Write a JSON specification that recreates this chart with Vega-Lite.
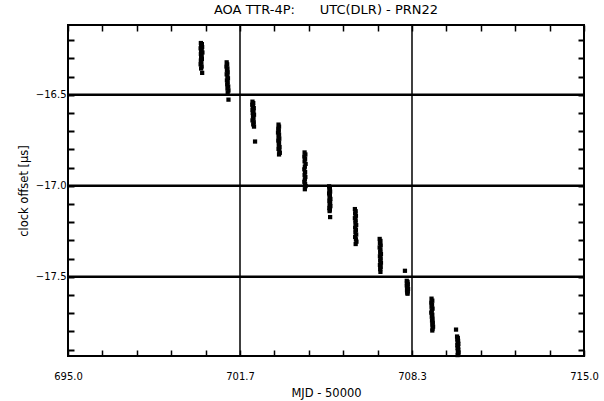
{
  "$schema": "https://vega.github.io/schema/vega-lite/v6.json",
  "width": 516,
  "height": 331,
  "autosize": {"type": "none"},
  "padding": {"left": 68, "top": 25, "right": 20, "bottom": 45},
  "background": "white",
  "title": {
    "text": "AOA TTR-4P:\u00a0\u00a0\u00a0\u00a0\u00a0 UTC(DLR) - PRN22",
    "font": "DejaVu Sans",
    "fontSize": 13,
    "fontWeight": "normal",
    "color": "black",
    "anchor": "middle",
    "offset": 7
  },
  "config": {
    "view": {"stroke": "black", "strokeWidth": 2},
    "axis": {
      "labelFont": "DejaVu Sans",
      "titleFont": "DejaVu Sans",
      "labelColor": "black",
      "titleColor": "black",
      "titleFontWeight": "normal"
    }
  },
  "data": {
    "values": [
      {"mjd": 700.15, "off": -16.216}, {"mjd": 700.19, "off": -16.222}, {"mjd": 700.16, "off": -16.230}, {"mjd": 700.20, "off": -16.238},
      {"mjd": 700.14, "off": -16.245}, {"mjd": 700.18, "off": -16.252}, {"mjd": 700.16, "off": -16.260}, {"mjd": 700.21, "off": -16.268},
      {"mjd": 700.15, "off": -16.276}, {"mjd": 700.18, "off": -16.285}, {"mjd": 700.16, "off": -16.294}, {"mjd": 700.19, "off": -16.303},
      {"mjd": 700.15, "off": -16.312}, {"mjd": 700.17, "off": -16.322}, {"mjd": 700.14, "off": -16.333}, {"mjd": 700.18, "off": -16.345},
      {"mjd": 700.16, "off": -16.356}, {"mjd": 700.20, "off": -16.380},
      {"mjd": 701.15, "off": -16.322}, {"mjd": 701.17, "off": -16.333}, {"mjd": 701.14, "off": -16.345}, {"mjd": 701.18, "off": -16.356},
      {"mjd": 701.16, "off": -16.366}, {"mjd": 701.19, "off": -16.377}, {"mjd": 701.15, "off": -16.388}, {"mjd": 701.18, "off": -16.399},
      {"mjd": 701.20, "off": -16.410}, {"mjd": 701.16, "off": -16.421}, {"mjd": 701.19, "off": -16.432}, {"mjd": 701.17, "off": -16.444},
      {"mjd": 701.21, "off": -16.455}, {"mjd": 701.18, "off": -16.466}, {"mjd": 701.22, "off": -16.477}, {"mjd": 701.19, "off": -16.489},
      {"mjd": 701.22, "off": -16.527},
      {"mjd": 702.15, "off": -16.538}, {"mjd": 702.18, "off": -16.546}, {"mjd": 702.14, "off": -16.555}, {"mjd": 702.17, "off": -16.564},
      {"mjd": 702.20, "off": -16.573}, {"mjd": 702.15, "off": -16.582}, {"mjd": 702.19, "off": -16.591}, {"mjd": 702.16, "off": -16.600},
      {"mjd": 702.21, "off": -16.610}, {"mjd": 702.17, "off": -16.620}, {"mjd": 702.19, "off": -16.631}, {"mjd": 702.15, "off": -16.641},
      {"mjd": 702.20, "off": -16.652}, {"mjd": 702.18, "off": -16.663}, {"mjd": 702.21, "off": -16.675}, {"mjd": 702.25, "off": -16.757},
      {"mjd": 703.16, "off": -16.664}, {"mjd": 703.18, "off": -16.675}, {"mjd": 703.15, "off": -16.686}, {"mjd": 703.17, "off": -16.697},
      {"mjd": 703.14, "off": -16.708}, {"mjd": 703.18, "off": -16.719}, {"mjd": 703.16, "off": -16.730}, {"mjd": 703.19, "off": -16.741},
      {"mjd": 703.15, "off": -16.752}, {"mjd": 703.18, "off": -16.763}, {"mjd": 703.17, "off": -16.775}, {"mjd": 703.20, "off": -16.787},
      {"mjd": 703.16, "off": -16.798}, {"mjd": 703.19, "off": -16.809}, {"mjd": 703.21, "off": -16.819}, {"mjd": 703.18, "off": -16.828},
      {"mjd": 704.17, "off": -16.817}, {"mjd": 704.20, "off": -16.828}, {"mjd": 704.16, "off": -16.840}, {"mjd": 704.19, "off": -16.852},
      {"mjd": 704.17, "off": -16.866}, {"mjd": 704.21, "off": -16.880}, {"mjd": 704.18, "off": -16.895}, {"mjd": 704.16, "off": -16.910},
      {"mjd": 704.19, "off": -16.925}, {"mjd": 704.17, "off": -16.940}, {"mjd": 704.20, "off": -16.952}, {"mjd": 704.18, "off": -16.965},
      {"mjd": 704.16, "off": -16.978}, {"mjd": 704.19, "off": -16.990}, {"mjd": 704.21, "off": -17.002}, {"mjd": 704.18, "off": -17.019},
      {"mjd": 705.12, "off": -17.003}, {"mjd": 705.15, "off": -17.012}, {"mjd": 705.13, "off": -17.022}, {"mjd": 705.16, "off": -17.032},
      {"mjd": 705.12, "off": -17.042}, {"mjd": 705.15, "off": -17.052}, {"mjd": 705.14, "off": -17.062}, {"mjd": 705.17, "off": -17.072},
      {"mjd": 705.13, "off": -17.082}, {"mjd": 705.16, "off": -17.092}, {"mjd": 705.14, "off": -17.102}, {"mjd": 705.17, "off": -17.112},
      {"mjd": 705.13, "off": -17.122}, {"mjd": 705.15, "off": -17.131}, {"mjd": 705.14, "off": -17.139}, {"mjd": 705.16, "off": -17.172},
      {"mjd": 706.12, "off": -17.128}, {"mjd": 706.15, "off": -17.140}, {"mjd": 706.13, "off": -17.152}, {"mjd": 706.16, "off": -17.165},
      {"mjd": 706.12, "off": -17.178}, {"mjd": 706.15, "off": -17.190}, {"mjd": 706.14, "off": -17.203}, {"mjd": 706.17, "off": -17.216},
      {"mjd": 706.13, "off": -17.229}, {"mjd": 706.16, "off": -17.242}, {"mjd": 706.14, "off": -17.255}, {"mjd": 706.17, "off": -17.268},
      {"mjd": 706.13, "off": -17.281}, {"mjd": 706.16, "off": -17.294}, {"mjd": 706.18, "off": -17.307}, {"mjd": 706.15, "off": -17.320},
      {"mjd": 707.08, "off": -17.292}, {"mjd": 707.11, "off": -17.303}, {"mjd": 707.09, "off": -17.315}, {"mjd": 707.12, "off": -17.327},
      {"mjd": 707.08, "off": -17.339}, {"mjd": 707.11, "off": -17.351}, {"mjd": 707.10, "off": -17.363}, {"mjd": 707.13, "off": -17.375},
      {"mjd": 707.09, "off": -17.387}, {"mjd": 707.12, "off": -17.399}, {"mjd": 707.10, "off": -17.411}, {"mjd": 707.13, "off": -17.423},
      {"mjd": 707.09, "off": -17.435}, {"mjd": 707.12, "off": -17.447}, {"mjd": 707.10, "off": -17.458}, {"mjd": 707.11, "off": -17.473},
      {"mjd": 708.06, "off": -17.467},
      {"mjd": 708.13, "off": -17.522}, {"mjd": 708.16, "off": -17.528}, {"mjd": 708.14, "off": -17.535}, {"mjd": 708.17, "off": -17.541},
      {"mjd": 708.13, "off": -17.548}, {"mjd": 708.16, "off": -17.554}, {"mjd": 708.15, "off": -17.561}, {"mjd": 708.18, "off": -17.567},
      {"mjd": 708.14, "off": -17.574}, {"mjd": 708.17, "off": -17.580}, {"mjd": 708.15, "off": -17.587}, {"mjd": 708.16, "off": -17.593},
      {"mjd": 709.09, "off": -17.620}, {"mjd": 709.12, "off": -17.631}, {"mjd": 709.08, "off": -17.642}, {"mjd": 709.11, "off": -17.653},
      {"mjd": 709.09, "off": -17.664}, {"mjd": 709.13, "off": -17.675}, {"mjd": 709.10, "off": -17.686}, {"mjd": 709.08, "off": -17.697},
      {"mjd": 709.12, "off": -17.708}, {"mjd": 709.10, "off": -17.719}, {"mjd": 709.13, "off": -17.730}, {"mjd": 709.11, "off": -17.741},
      {"mjd": 709.14, "off": -17.752}, {"mjd": 709.12, "off": -17.763}, {"mjd": 709.15, "off": -17.774}, {"mjd": 709.13, "off": -17.785},
      {"mjd": 709.12, "off": -17.795},
      {"mjd": 710.04, "off": -17.790},
      {"mjd": 710.08, "off": -17.828}, {"mjd": 710.11, "off": -17.836}, {"mjd": 710.09, "off": -17.844}, {"mjd": 710.12, "off": -17.852},
      {"mjd": 710.10, "off": -17.860}, {"mjd": 710.13, "off": -17.868}, {"mjd": 710.09, "off": -17.876}, {"mjd": 710.12, "off": -17.884},
      {"mjd": 710.10, "off": -17.892}, {"mjd": 710.13, "off": -17.900}, {"mjd": 710.11, "off": -17.908}, {"mjd": 710.14, "off": -17.916},
      {"mjd": 710.12, "off": -17.924}, {"mjd": 710.10, "off": -17.930}
    ]
  },
  "layer": [
    {
      "data": {"values": [{}]},
      "mark": {"type": "rule", "color": "black", "strokeWidth": 1.5},
      "encoding": {
        "x": {
          "datum": 701.6667,
          "type": "quantitative",
          "scale": {"domain": [695, 715], "nice": false, "zero": false},
          "axis": {
            "orient": "top",
            "values": [695, 696.3333, 697.6667, 699, 700.3333, 701.6667, 703, 704.3333, 705.6667, 707, 708.3333, 709.6667, 711, 712.3333, 713.6667, 715],
            "ticks": true,
            "tickSize": -6,
            "tickWidth": 1.5,
            "tickColor": "black",
            "labels": false,
            "domain": false,
            "grid": false,
            "title": null
          }
        }
      }
    },
    {
      "data": {"values": [{}]},
      "mark": {"type": "rule", "color": "black", "strokeWidth": 1.5},
      "encoding": {
        "x": {"datum": 708.3333, "type": "quantitative", "scale": {"domain": [695, 715], "nice": false, "zero": false}, "axis": null}
      }
    },
    {
      "data": {"values": [{}]},
      "mark": {"type": "rule", "color": "black", "strokeWidth": 2.5},
      "encoding": {
        "y": {
          "datum": -16.5,
          "type": "quantitative",
          "scale": {"domain": [-17.935, -16.117], "nice": false, "zero": false},
          "axis": {
            "orient": "right",
            "values": [-16.2, -16.3, -16.4, -16.5, -16.6, -16.7, -16.8, -16.9, -17.0, -17.1, -17.2, -17.3, -17.4, -17.5, -17.6, -17.7, -17.8, -17.9],
            "ticks": true,
            "tickSize": -6,
            "tickWidth": 2,
            "tickColor": "black",
            "labels": false,
            "domain": false,
            "grid": false,
            "title": null
          }
        }
      }
    },
    {
      "data": {"values": [{}]},
      "mark": {"type": "rule", "color": "black", "strokeWidth": 2.5},
      "encoding": {
        "y": {"datum": -17.0, "type": "quantitative", "scale": {"domain": [-17.935, -16.117], "nice": false, "zero": false}, "axis": null}
      }
    },
    {
      "data": {"values": [{}]},
      "mark": {"type": "rule", "color": "black", "strokeWidth": 2.5},
      "encoding": {
        "y": {"datum": -17.5, "type": "quantitative", "scale": {"domain": [-17.935, -16.117], "nice": false, "zero": false}, "axis": null}
      }
    },
    {
      "mark": {"type": "point", "shape": "square", "filled": true, "size": 18, "color": "black", "opacity": 1},
      "encoding": {
        "x": {
          "field": "mjd",
          "type": "quantitative",
          "scale": {"domain": [695, 715], "nice": false, "zero": false},
          "axis": {
            "orient": "bottom",
            "offset": -6,
            "values": [695, 696.3333, 697.6667, 699, 700.3333, 701.6667, 703, 704.3333, 705.6667, 707, 708.3333, 709.6667, 711, 712.3333, 713.6667, 715],
            "ticks": true,
            "tickSize": 6,
            "tickWidth": 1.5,
            "tickColor": "black",
            "domain": false,
            "grid": false,
            "labelExpr": "round((datum.value - 695) * 0.75) % 5 == 0 ? format(datum.value, '.1f') : ''",
            "labelFontSize": 10,
            "labelPadding": 15,
            "labelFlush": false,
            "labelOverlap": false,
            "title": "MJD - 50000",
            "titleFontSize": 11.5,
            "titlePadding": 6
          }
        },
        "y": {
          "field": "off",
          "type": "quantitative",
          "scale": {"domain": [-17.935, -16.117], "nice": false, "zero": false},
          "axis": {
            "orient": "left",
            "offset": -6,
            "values": [-16.2, -16.3, -16.4, -16.5, -16.6, -16.7, -16.8, -16.9, -17.0, -17.1, -17.2, -17.3, -17.4, -17.5, -17.6, -17.7, -17.8, -17.9],
            "ticks": true,
            "tickSize": 6,
            "tickWidth": 2,
            "tickColor": "black",
            "domain": false,
            "grid": false,
            "labelExpr": "abs(datum.value * 2 - round(datum.value * 2)) < 0.001 ? format(datum.value, '.1f') : ''",
            "labelFontSize": 10,
            "labelPadding": 2,
            "labelOverlap": false,
            "title": "clock offset [µs]",
            "titleFontSize": 11.5,
            "titlePadding": 6
          }
        }
      }
    }
  ],
  "resolve": {"axis": {"x": "independent", "y": "independent"}}
}
